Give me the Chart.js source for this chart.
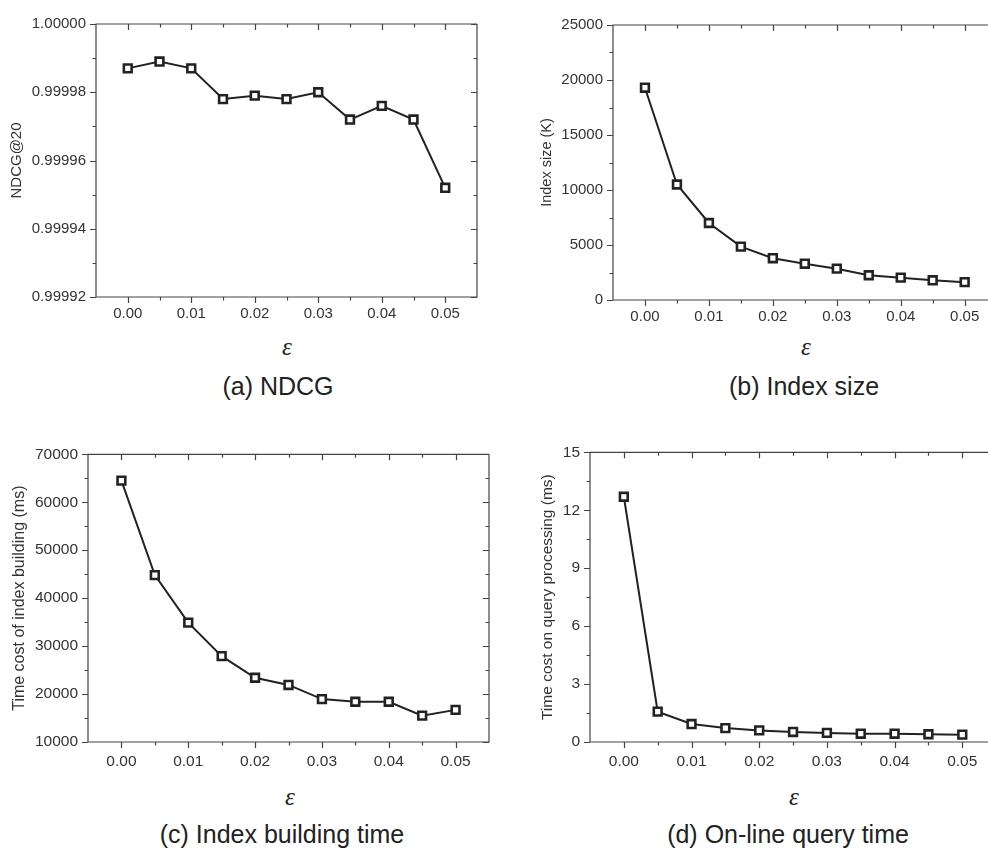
<!DOCTYPE html>
<html>
<head>
<meta charset="utf-8">
<script src="https://cdn.jsdelivr.net/npm/chart.js@4.4.1/dist/chart.umd.min.js"></script>
<style>
html, body { margin: 0; padding: 0; background: #fff; overflow: hidden; }
#page { position: relative; width: 988px; height: 857px; overflow: hidden; }
canvas { position: absolute; }
.lbl { position: absolute; transform: translate(-50%, -50%); white-space: nowrap; color: #222;
       font-family: "Liberation Sans", Arial, sans-serif; }
.eps { font-family: "Liberation Serif", "DejaVu Serif", serif; font-style: italic; font-size: 25px; }
.cap { font-size: 25px; }
</style>
</head>
<body>
<div id="page">
<div class="lbl eps" style="left:287px;top:347px">ε</div>
<div class="lbl eps" style="left:806px;top:347px">ε</div>
<div class="lbl eps" style="left:290px;top:797px">ε</div>
<div class="lbl eps" style="left:794px;top:797px">ε</div>
<div class="lbl cap" style="left:278px;top:386px">(a) NDCG</div>
<div class="lbl cap" style="left:804px;top:386px">(b) Index size</div>
<div class="lbl cap" style="left:282px;top:834px">(c) Index building time</div>
<div class="lbl cap" style="left:788px;top:834px">(d) On-line query time</div>
</div>
<script>
const eps = [0, 0.005, 0.01, 0.015, 0.02, 0.025, 0.03, 0.035, 0.04, 0.045, 0.05];
const ndcg = [0.999987, 0.999989, 0.999987, 0.999978, 0.999979, 0.999978, 0.999980, 0.999972, 0.999976, 0.999972, 0.999952];
const indexSize = [19300, 10500, 7000, 4850, 3800, 3300, 2850, 2250, 2030, 1790, 1620];
const buildTime = [64500, 44800, 34900, 27900, 23400, 21900, 18950, 18400, 18400, 15500, 16700];
const queryTime = [12.7, 1.57, 0.93, 0.72, 0.60, 0.52, 0.47, 0.43, 0.43, 0.40, 0.38];

const xTicks = [0, 0.01, 0.02, 0.03, 0.04, 0.05];
const ndcgTicks = [0.99992, 0.99994, 0.99996, 0.99998, 1.0];
const sizeTicks = [0, 5000, 10000, 15000, 20000, 25000];
const buildTicks = [10000, 20000, 30000, 40000, 50000, 60000, 70000];
const queryTicks = [0, 3, 6, 9, 12, 15];

const FONT = '"Liberation Sans", Arial, sans-serif';
const INK = '#222';
const page = document.getElementById('page');

function minors(ticks, min, max) {
    const out = [];
    const step = ticks[1] - ticks[0];
    const cand = [ticks[0] - step / 2].concat(ticks.map(t => t + step / 2));
    cand.forEach(v => { if (v > min + step * 0.01 && v < max - step * 0.01) out.push(v); });
    return out;
}

// box with ticks on all four sides: outward on left/bottom, inward on top/right.
// right-hand panels are cut by the page edge in the source, so no right side there.
const frame = {
    id: 'frame',
    afterDraw(chart) {
        const { ctx, chartArea: a, scales: { x, y } } = chart;
        const opt = chart.options.plugins.frame;
        ctx.save();
        ctx.strokeStyle = '#444';
        ctx.lineWidth = 1.2;
        ctx.beginPath();
        ctx.moveTo(a.right, a.top); ctx.lineTo(a.left, a.top);
        ctx.lineTo(a.left, a.bottom); ctx.lineTo(a.right, a.bottom);
        if (!opt.openRight) ctx.lineTo(a.right, a.top);
        const xs = [[opt.xMajor, 6], [minors(opt.xMajor, x.min, x.max), 3.5]];
        const ys = [[opt.yMajor, 6], [minors(opt.yMajor, y.min, y.max), 3.5]];
        xs.forEach(([vals, len]) => vals.forEach(v => {
            const px = Math.round(x.getPixelForValue(v)) + 0.5;
            ctx.moveTo(px, a.bottom); ctx.lineTo(px, a.bottom + len);
            ctx.moveTo(px, a.top); ctx.lineTo(px, a.top + len);
        }));
        ys.forEach(([vals, len]) => vals.forEach(v => {
            const py = Math.round(y.getPixelForValue(v)) + 0.5;
            ctx.moveTo(a.left - len, py); ctx.lineTo(a.left, py);
            if (!opt.openRight) { ctx.moveTo(a.right, py); ctx.lineTo(a.right - len, py); }
        }));
        ctx.stroke();
        ctx.restore();
    }
};

function makePanel(p) {
    const lh = p.titleSize * 1.2;
    const left = Math.round(p.titleX - lh / 2);
    const top = p.plot.t - 10;
    const padRight = p.openRight ? 0 : 10;
    const right = p.plot.r + padRight;
    const bottom = p.plot.b + 34;
    const cv = document.createElement('canvas');
    cv.width = right - left;
    cv.height = bottom - top;
    cv.style.left = left + 'px';
    cv.style.top = top + 'px';
    page.appendChild(cv);

    new Chart(cv, {
        type: 'scatter',
        data: {
            datasets: [{
                data: eps.map((e, i) => ({ x: e, y: p.values[i] })),
                showLine: true,
                borderColor: INK,
                borderWidth: 2,
                pointStyle: 'rect',
                pointRadius: 5.5,
                pointBorderWidth: 2.6,
                pointBorderColor: INK,
                pointBackgroundColor: '#fff',
            }],
        },
        options: {
            responsive: false,
            animation: false,
            devicePixelRatio: 1,
            layout: { autoPadding: false, padding: { top: 10, right: padRight, left: 0, bottom: 0 } },
            plugins: {
                legend: { display: false },
                tooltip: { enabled: false },
                frame: { xMajor: xTicks, yMajor: p.yTicks, openRight: !!p.openRight },
            },
            scales: {
                x: {
                    type: 'linear',
                    min: -0.005,
                    max: p.xMax,
                    afterBuildTicks: s => { s.ticks = xTicks.map(v => ({ value: v })); },
                    afterFit: s => { s.height = 34; },
                    grid: { display: false, drawTicks: false },
                    border: { display: false },
                    ticks: {
                        padding: p.xPad,
                        color: '#333',
                        font: { family: FONT, size: p.tickSize },
                        maxRotation: 0,
                        callback: v => v.toFixed(2),
                    },
                },
                y: {
                    min: p.yTicks[0],
                    max: p.yTicks[p.yTicks.length - 1],
                    afterBuildTicks: s => { s.ticks = p.yTicks.map(v => ({ value: v })); },
                    afterFit: s => { s.width = p.plot.l - left; },
                    grid: { display: false, drawTicks: false },
                    border: { display: false },
                    title: {
                        display: true,
                        text: p.yTitle,
                        padding: 0,
                        color: '#333',
                        font: { family: FONT, size: p.titleSize },
                    },
                    ticks: {
                        padding: 10,
                        color: '#333',
                        font: { family: FONT, size: p.tickSize },
                        callback: p.fmt,
                    },
                },
            },
        },
        plugins: [frame],
    });
}

makePanel({
    plot: { l: 96, r: 477, t: 15, b: 297 }, titleX: 17, xPad: 8, tickSize: 15, titleSize: 15, xMax: 0.055,
    values: ndcg, yTicks: ndcgTicks, yTitle: 'NDCG@20', fmt: v => v.toFixed(5),
});
makePanel({
    plot: { l: 613, r: 988, t: 16, b: 300 }, titleX: 547, xPad: 8, tickSize: 15, titleSize: 14.5,
    xMax: 0.05365, openRight: true,
    values: indexSize, yTicks: sizeTicks, yTitle: 'Index size (K)', fmt: v => String(v),
});
makePanel({
    plot: { l: 88, r: 489, t: 445, b: 742 }, titleX: 20, xPad: 10, tickSize: 15.5, titleSize: 16, xMax: 0.055,
    values: buildTime, yTicks: buildTicks, yTitle: 'Time cost of index building (ms)', fmt: v => String(v),
});
makePanel({
    plot: { l: 590, r: 988, t: 443, b: 742 }, titleX: 547, xPad: 10, tickSize: 15.5, titleSize: 15.5,
    xMax: 0.0538, openRight: true,
    values: queryTime, yTicks: queryTicks, yTitle: 'Time cost on query processing (ms)', fmt: v => String(v),
});
</script>
</body>
</html>
